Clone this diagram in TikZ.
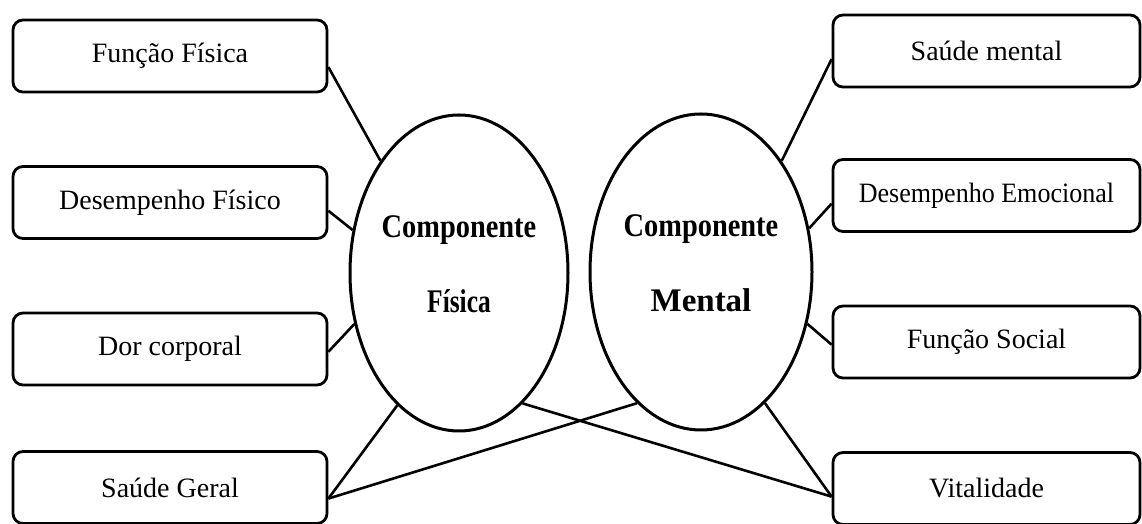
\documentclass[tikz,border=0pt]{standalone}
\usepackage{fontspec}
\setmainfont{Liberation Serif}
\newfontfamily\narrowserif[FakeStretch=0.93]{Liberation Serif}
\newfontfamily\tightserif[FakeStretch=0.86]{Liberation Serif}
\newfontfamily\condserif[FakeStretch=0.77]{Liberation Serif}
\usetikzlibrary{shapes.geometric}

\begin{document}
\begin{tikzpicture}[x=0.5pt,y=0.5pt,font=\fontsize{14}{16}\selectfont,
    box/.style={draw,line width=1.4pt,rounded corners=5pt,minimum height=36pt,inner sep=0pt},
    leftbox/.style={box,minimum width=157pt},
    rightbox/.style={box,minimum width=153.5pt},
    comp/.style={draw,ellipse,line width=1.5pt,inner ysep=0pt,inner xsep=-20pt,align=center,
      minimum height=158pt,font=\fontsize{16.5}{37.5}\selectfont\bfseries},
    link/.style={line width=1.3pt}]
  \useasboundingbox (0,0) rectangle (1142,524);
  % the two components
  \node[comp,minimum width=109pt] (fisica) at (459,251)
    {{\tightserif\bfseries Componente}\\{\condserif\bfseries Física}\rule[-9pt]{0pt}{9pt}};
  \node[comp,minimum width=111pt] (mental) at (701,252)
    {{\tightserif\bfseries Componente}\\Mental\rule[-9pt]{0pt}{9pt}};
  % left scales
  \node[leftbox] (funcfis) at (170,468) {Função Física};
  \node[leftbox] (desfis) at (170,321.5) {Desempenho Físico};
  \node[leftbox] (dor) at (170,175) {Dor corporal};
  \node[leftbox] (geral) at (170,36.5) {Saúde Geral};
  % right scales
  \node[rightbox] (saument) at (986.5,473) {Saúde mental};
  \node[rightbox] (desemo) at (986.5,328.5) {\narrowserif Desempenho Emocional};
  \node[rightbox] (social) at (986.5,182) {Função Social};
  \node[rightbox] (vital) at (986.5,35.5) {Vitalidade};
  % connectors
  \draw[link] (funcfis.-4) -- (fisica.125);
  \draw[link] (desfis.-3) -- (fisica.158);
  \draw[link] (dor.-1) -- (fisica.206);
  \draw[link] (geral.-4) -- (fisica.245);
  \draw[link] (geral.-4) -- (mental.244);
  \draw[link] (saument.183) -- (mental.54);
  \draw[link] (desemo.183) -- (mental.22);
  \draw[link] (social.181) -- (mental.334);
  \draw[link] (vital.183) -- (mental.296);
  \draw[link] (vital.183) -- (fisica.296);
\end{tikzpicture}
\end{document}
